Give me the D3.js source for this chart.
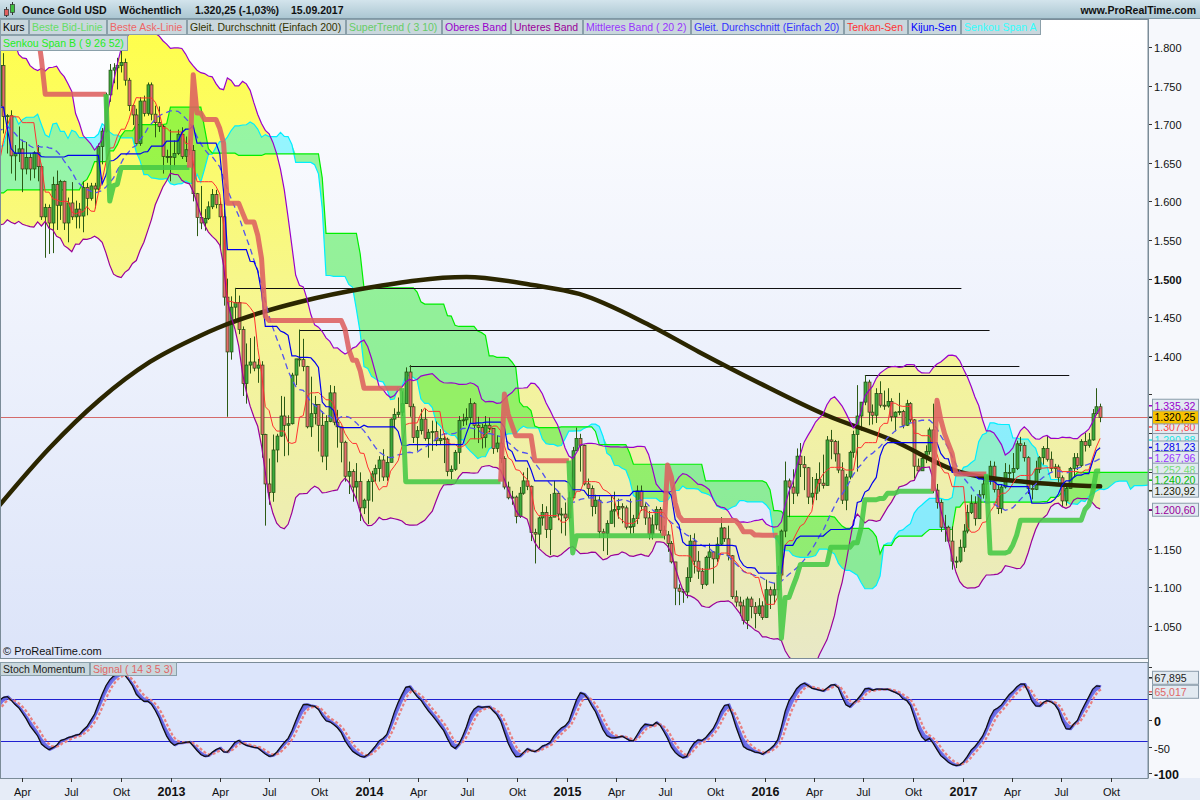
<!DOCTYPE html>
<html>
<head>
<meta charset="utf-8">
<script src="https://cdn.jsdelivr.net/npm/d3@7/dist/d3.min.js"></script>
<style>
  body { margin: 0; background: #ffffff; }
  svg { display: block; font-family: "Liberation Sans", Arial, sans-serif; }
</style>
</head>
<body>
<svg id="chart" width="1200" height="800"></svg>
<script>
// weekly bars (Monday of each week); the first 73 weeks are only warm-up for the indicators
const firstMonday = "2010-10-04";
const firstVisible = 73;

const opens = [
  1318,1346,1369,1326,1357,1394,1366,1352,1362,1406,1385,1378,1380,
  1421,1368,1360,1342,1340,1348,1360,1388,1408,1428,1421,1416,1430,1430,1474,1487,1505,1556,1492,1492,1491,1536,1542,1529,1539,1501,1486,1542,1592,1601,1628,1663,1744,1852,1828,1876,1856,1814,1656,1620,1635,1682,1642,1745,1754,1788,1724,1684,1746,1712,1598,1606,
  1566,1617,1640,1665,1728,1725,1725,1724,1776,1710,1711,1659,1662,1668,1642,1657,1642,1663,1645,1580,1592,1572,1622,1595,1626,1572,1598,1580,1590,1581,1618,1604,1620,1616,1671,1691,1738,1770,1773,1776,1780,1757,1724,1712,1675,1730,1714,1751,1713,1702,1697,1658,1658,
  1657,1662,1687,1658,1667,1666,1610,1579,1572,1578,1593,1609,1596,1580,1476,1405,1463,1469,1434,1364,1388,1392,1384,1388,1298,1234,1223,1278,1296,1322,1310,1312,1375,1396,1395,1386,1308,1325,1337,1310,1270,1315,1352,1314,1308,1288,1244,1250,1230,1237,1203,1213,
  1237,1247,1254,1265,1243,1262,1318,1324,1327,1338,1379,1334,1294,1303,1318,1293,1301,1302,1290,1293,1292,1250,1253,1275,1316,1317,1320,1338,1310,1307,1294,1310,1306,1280,1287,1267,1230,1216,1217,1192,1222,1238,1231,1171,1169,1190,1197,1175,1191,1222,1195,1195,
  1190,1216,1277,1293,1284,1234,1228,1205,1213,1172,1170,1183,1199,1201,1205,1203,1178,1179,1189,1225,1205,1190,1169,1181,1201,1174,1168,1157,1133,1099,1095,1094,1113,1160,1134,1121,1104,1139,1146,1137,1156,1177,1163,1141,1088,1081,1076,1057,1085,1075,1066,1076,
  1061,1097,1090,1097,1116,1173,1238,1230,1222,1270,1259,1255,1217,1222,1240,1235,1232,1291,1289,1273,1252,1213,1243,1275,1298,1322,1340,1366,1327,1323,1351,1336,1335,1341,1321,1327,1328,1310,1338,1317,1257,1251,1267,1276,1304,1226,1210,1178,1178,1160,1134,1134,
  1152,1173,1197,1209,1189,1220,1234,1239,1257,1227,1202,1230,1249,1249,1254,1286,1284,1268,1228,1227,1253,1268,1280,1266,1254,1256,1242,1212,1228,1254,1268,1258,1289,1284,1291,1325,1334
];
const highs = [
  1365,1387,1372,1360,1398,1424,1374,1381,1414,1432,1399,1389,1424,
  1423,1390,1372,1347,1357,1368,1390,1418,1437,1445,1436,1448,1440,1477,1489,1511,1569,1577,1518,1510,1536,1550,1549,1547,1557,1507,1545,1600,1610,1633,1681,1814,1881,1913,1889,1921,1866,1814,1675,1683,1686,1682,1750,1764,1802,1793,1725,1754,1763,1712,1625,1610,
  1628,1648,1675,1730,1764,1749,1743,1782,1792,1713,1718,1673,1697,1680,1677,1662,1665,1673,1646,1597,1596,1632,1640,1628,1627,1605,1625,1601,1598,1626,1624,1624,1624,1675,1695,1741,1778,1779,1786,1796,1785,1760,1726,1720,1735,1737,1754,1754,1724,1723,1699,1667,1693,
  1679,1693,1696,1684,1680,1673,1611,1620,1590,1600,1616,1615,1604,1590,1500,1477,1488,1478,1438,1416,1423,1425,1396,1393,1299,1267,1298,1299,1348,1347,1323,1378,1396,1434,1422,1387,1373,1348,1337,1328,1323,1362,1361,1330,1308,1290,1263,1253,1261,1249,1215,1240,
  1251,1259,1270,1279,1270,1319,1332,1346,1354,1385,1388,1338,1309,1331,1331,1305,1316,1315,1305,1300,1294,1258,1278,1322,1325,1332,1345,1340,1321,1312,1322,1320,1306,1297,1293,1270,1237,1225,1219,1230,1249,1255,1232,1176,1192,1208,1205,1221,1238,1224,1203,1210,
  1224,1282,1307,1299,1285,1241,1232,1220,1218,1176,1187,1219,1224,1215,1209,1206,1215,1194,1232,1232,1209,1199,1194,1205,1204,1180,1173,1160,1133,1104,1098,1126,1168,1170,1147,1125,1141,1157,1147,1165,1191,1178,1180,1142,1096,1088,1084,1088,1088,1081,1086,1082,
  1110,1101,1106,1128,1175,1263,1241,1253,1280,1287,1270,1256,1243,1248,1262,1272,1296,1304,1291,1290,1262,1247,1277,1303,1362,1340,1375,1369,1337,1358,1367,1355,1358,1345,1328,1352,1330,1343,1340,1318,1267,1274,1284,1307,1338,1234,1214,1194,1180,1179,1140,1162,
  1182,1207,1220,1218,1226,1245,1245,1264,1263,1234,1233,1261,1259,1274,1290,1295,1288,1270,1237,1264,1270,1283,1296,1276,1260,1259,1245,1231,1256,1274,1274,1292,1300,1300,1331,1358,1338
];
const lows = [
  1314,1340,1316,1318,1330,1357,1331,1340,1357,1380,1360,1370,1374,
  1363,1352,1334,1309,1329,1336,1355,1385,1403,1404,1382,1414,1410,1426,1449,1485,1500,1462,1478,1480,1489,1523,1512,1517,1497,1478,1480,1540,1578,1590,1600,1660,1743,1702,1808,1800,1767,1640,1532,1600,1633,1604,1640,1675,1734,1713,1677,1680,1700,1562,1590,1523,
  1566,1605,1630,1653,1710,1707,1710,1722,1688,1662,1636,1627,1651,1612,1635,1627,1630,1626,1576,1527,1532,1533,1563,1576,1563,1547,1576,1565,1565,1560,1582,1601,1591,1614,1648,1689,1729,1753,1745,1767,1750,1717,1699,1673,1672,1710,1711,1705,1683,1690,1636,1650,1626,
  1645,1660,1655,1651,1660,1600,1555,1564,1562,1576,1590,1591,1539,1465,1321,1395,1443,1428,1348,1338,1377,1380,1365,1268,1180,1207,1211,1262,1295,1270,1271,1311,1362,1386,1380,1306,1295,1311,1276,1262,1252,1314,1310,1281,1262,1237,1221,1211,1213,1186,1195,1182,
  1211,1237,1237,1238,1238,1262,1306,1320,1322,1338,1321,1287,1277,1298,1290,1268,1277,1283,1285,1261,1244,1240,1251,1260,1309,1310,1312,1292,1287,1280,1281,1301,1273,1275,1261,1227,1214,1207,1183,1190,1220,1226,1160,1131,1151,1180,1164,1142,1191,1187,1170,1167,
  1185,1216,1277,1250,1232,1216,1192,1195,1164,1147,1142,1183,1178,1189,1183,1175,1169,1170,1182,1199,1181,1162,1162,1175,1170,1162,1146,1131,1077,1077,1080,1086,1107,1118,1111,1098,1102,1124,1105,1133,1155,1159,1135,1085,1075,1063,1052,1046,1060,1047,1063,1058,
  1061,1072,1078,1096,1110,1165,1191,1208,1218,1243,1226,1208,1207,1213,1224,1228,1232,1266,1263,1248,1208,1200,1240,1268,1250,1303,1336,1310,1311,1313,1333,1330,1333,1315,1302,1323,1306,1309,1314,1241,1250,1251,1261,1272,1222,1202,1172,1159,1158,1123,1125,1132,
  1146,1170,1195,1180,1189,1215,1215,1233,1223,1195,1196,1228,1238,1240,1252,1276,1263,1221,1214,1226,1248,1259,1263,1250,1242,1236,1204,1206,1228,1243,1252,1256,1276,1281,1290,1323,1314
];
const closes = [
  1346,1369,1326,1357,1394,1366,1352,1362,1406,1385,1378,1380,1421,
  1368,1360,1342,1340,1348,1360,1388,1408,1428,1421,1416,1430,1430,1474,1487,1505,1556,1492,1492,1491,1536,1542,1529,1539,1501,1486,1542,1592,1601,1628,1663,1744,1852,1828,1876,1856,1814,1656,1620,1635,1682,1642,1745,1754,1788,1724,1684,1746,1712,1598,1606,1566,
  1617,1640,1665,1728,1725,1725,1724,1776,1710,1711,1659,1662,1668,1642,1657,1642,1663,1645,1580,1592,1572,1622,1595,1626,1572,1598,1580,1590,1581,1618,1604,1620,1616,1671,1691,1738,1770,1773,1776,1780,1757,1724,1712,1675,1730,1714,1751,1713,1702,1697,1658,1658,1657,
  1662,1687,1658,1667,1666,1610,1579,1572,1578,1593,1609,1596,1580,1476,1405,1463,1469,1434,1364,1388,1392,1384,1388,1298,1234,1223,1278,1296,1322,1310,1312,1375,1396,1395,1386,1308,1325,1337,1310,1270,1315,1352,1314,1308,1288,1244,1250,1230,1237,1203,1213,1237,
  1247,1254,1265,1243,1262,1318,1324,1327,1338,1379,1334,1294,1303,1318,1293,1301,1302,1290,1293,1292,1250,1253,1275,1316,1317,1320,1338,1310,1307,1294,1310,1306,1280,1287,1267,1230,1216,1217,1192,1222,1238,1231,1171,1169,1190,1197,1175,1191,1222,1195,1195,1190,
  1216,1277,1293,1284,1234,1228,1205,1213,1172,1170,1183,1199,1201,1205,1203,1178,1179,1189,1225,1205,1190,1169,1181,1201,1174,1168,1157,1133,1099,1095,1094,1113,1160,1134,1121,1104,1139,1146,1137,1156,1177,1163,1141,1088,1081,1076,1057,1085,1075,1066,1076,1061,
  1097,1090,1097,1116,1173,1238,1230,1222,1270,1259,1255,1217,1222,1240,1235,1232,1291,1289,1273,1252,1213,1243,1275,1298,1322,1340,1366,1327,1323,1351,1336,1335,1341,1321,1327,1328,1310,1338,1317,1257,1251,1267,1276,1304,1226,1210,1178,1178,1160,1134,1134,1152,
  1173,1197,1209,1189,1220,1234,1239,1257,1227,1202,1230,1249,1249,1254,1286,1284,1268,1228,1227,1253,1268,1280,1266,1254,1256,1242,1212,1228,1254,1268,1258,1289,1284,1291,1325,1334,1320.25
];

// 200-week average
const sma200Dates = ["2012-02-20","2012-05-22","2012-08-22","2012-11-23","2013-02-23","2013-03-28","2013-06-14","2013-08-26","2013-12-28","2014-06-30","2014-10-30","2015-01-24","2015-06-02","2015-09-02","2015-12-22","2016-04-23","2016-08-23","2016-12-26","2017-04-28","2017-09-11"];
const sma200Values = [1206.7,1280.6,1342.8,1392.0,1425.7,1436.0,1455.5,1469.7,1487.8,1502.1,1491.7,1480.1,1439.9,1405.0,1364.8,1323.3,1290.9,1249.5,1236.5,1230.9];

// horizontal resistance lines
const levelStart = ["2013-04-29","2013-08-26","2014-03-17","2016-07-04"];
const levelEnd = ["2016-12-29","2017-02-19","2017-04-15","2017-07-16"];
const levelValue = [1488, 1434, 1387, 1375];

// last values shown on the price scale (the first two sit behind the others)
const coveredTagValues = [1307.80, 1290.88];
const coveredTagColors = ["#ff4444", "#22e5e5"];
const tagValues = [1335.32, 1281.23, 1267.96, 1252.48, 1240.20, 1230.92, 1200.60];
const tagColors = ["#9900cc", "#0000ee", "#9933ff", "#77dd77", "#00bb00", "#222200", "#990099"];
const lastPrice = 1320.25;
const stochTags = [67.895, 65.017];
const stochTagColors = ["#222222", "#e06666"];

const priceTicks = [1050, 1100, 1150, 1200, 1250, 1300, 1350, 1400, 1450, 1500, 1550, 1600, 1650, 1700, 1750, 1800];
const stochTicks = [100, 50, 0, -50, -100];

const legendNames = ["Kurs", "Beste Bid-Linie", "Beste Ask-Linie", "Gleit. Durchschnitt (Einfach 200)", "SuperTrend ( 3 10)", "Oberes Band", "Unteres Band", "Mittleres Band ( 20 2)", "Gleit. Durchschnitt (Einfach 20)", "Tenkan-Sen", "Kijun-Sen", "Senkou Span A"];
const legendColors = ["#000000", "#66dd66", "#ee6666", "#333300", "#66cc66", "#9900cc", "#990099", "#9933ff", "#3333ff", "#ff3333", "#0000ff", "#33ffff"];
const monthNames = {3: "Apr", 6: "Jul", 9: "Okt"};

// ---------------------------------------------------------------
const n = Math.min(opens.length, highs.length, lows.length, closes.length);
const parse = d3.timeParse("%Y-%m-%d");
const start = parse(firstMonday);
const weekAt = j => d3.timeMonday.offset(start, j);

const loc = d3.formatLocale({decimal: ",", thousands: ".", grouping: [3], currency: ["", ""]});
const fmtTick = loc.format(",.0f");
const fmtPrice = loc.format(",.2f");
const fmtStoch = loc.format(".3f");

const P = {left: 0, right: 1148, top: 19, bottom: 658};
const S = {top: 662, bottom: 778};

const x = d3.scaleTime().domain([new Date(2013, 0, 1), new Date(2017, 0, 1)]).range([171, 963]);
const y = d3.scaleLinear().domain([1050, 1800]).range([626, 47]);
const ys = d3.scaleLinear().domain([-100, 100]).range([773, 667]);

// indicators
const hl = (i, len) => {
  const s = Math.max(0, i - len + 1);
  return (d3.max(highs.slice(s, i + 1)) + d3.min(lows.slice(s, i + 1))) / 2;
};
const sma20 = [], upper = [], lower = [], tenkan = [], kijun = [];
for (let i = 0; i < n; i++) {
  if (i >= 19) {
    const w = closes.slice(i - 19, i + 1);
    const m = d3.mean(w);
    const sd = Math.sqrt(d3.mean(w, v => (v - m) * (v - m)));
    sma20[i] = m; upper[i] = m + 2 * sd; lower[i] = m - 2 * sd;
  } else { sma20[i] = upper[i] = lower[i] = null; }
  tenkan[i] = i >= 8 ? hl(i, 9) : null;
  kijun[i] = i >= 25 ? hl(i, 26) : null;
}
const cloud = d3.range(25, n).map(i => ({d: weekAt(i + 26), a: (tenkan[i] + kijun[i]) / 2, b: hl(i, 52)}));

// supertrend 3 / 10 (Wilder average of the true range)
const tr = closes.map((c, i) => i === 0 ? highs[i] - lows[i] :
  Math.max(highs[i] - lows[i], Math.abs(highs[i] - closes[i - 1]), Math.abs(lows[i] - closes[i - 1])));
const atr = [];
for (let i = 0; i < n; i++) {
  if (i < 9) atr[i] = null;
  else if (i === 9) atr[i] = d3.mean(tr.slice(0, 10));
  else atr[i] = (atr[i - 1] * 9 + tr[i]) / 10;
}
const fUp = [], fDn = [], st = [], stUp = [];
for (let i = 9; i < n; i++) {
  const mid = (highs[i] + lows[i]) / 2;
  const bu = mid + 3 * atr[i], bd = mid - 3 * atr[i];
  if (i === 9) { fUp[i] = bu; fDn[i] = bd; st[i] = bu; stUp[i] = false; continue; }
  fUp[i] = (bu < fUp[i - 1] || closes[i - 1] > fUp[i - 1]) ? bu : fUp[i - 1];
  fDn[i] = (bd > fDn[i - 1] || closes[i - 1] < fDn[i - 1]) ? bd : fDn[i - 1];
  if (!stUp[i - 1]) stUp[i] = closes[i] > fUp[i];
  else stUp[i] = closes[i] >= fDn[i];
  st[i] = stUp[i] ? fDn[i] : fUp[i];
}

// stochastic momentum index 14 3 5 3
const ema = (arr, len) => {
  const k = 2 / (len + 1); let prev = null;
  return arr.map(v => { if (v == null) return null; prev = prev == null ? v : prev + k * (v - prev); return prev; });
};
const dist = [], rng = [];
for (let i = 0; i < n; i++) {
  if (i < 13) { dist[i] = null; rng[i] = null; continue; }
  const hh = d3.max(highs.slice(i - 13, i + 1)), ll = d3.min(lows.slice(i - 13, i + 1));
  dist[i] = closes[i] - (hh + ll) / 2; rng[i] = hh - ll;
}
const dS = ema(ema(dist, 3), 5), rS = ema(ema(rng, 3), 5);
const smi = dS.map((v, i) => v == null ? null : 100 * v / (0.5 * rS[i]));
const sig = ema(smi, 3);

// ---------------------------------------------------------------
const svg = d3.select("#chart");
const defs = svg.append("defs");
const vGrad = (id, y1, y2, stops) => {
  const g = defs.append("linearGradient").attr("id", id).attr("gradientUnits", "userSpaceOnUse")
    .attr("x1", 0).attr("x2", 0).attr("y1", y1).attr("y2", y2);
  stops.forEach(s => g.append("stop").attr("offset", s[0]).attr("stop-color", s[1]));
};
vGrad("bgMain", P.top, P.bottom, [[0, "#ffffff"], [1, "#dce4f9"]]);
vGrad("bandFill", P.top, P.bottom, [[0, "#ffff48"], [0.45, "#f6f692"], [1, "#e8e8c6"]]);
vGrad("header", 0, P.top, [[0, "#d3e4ec"], [1, "#a9c5d1"]]);
defs.append("clipPath").attr("id", "clipMain").append("rect")
  .attr("x", P.left).attr("y", P.top).attr("width", P.right - P.left).attr("height", P.bottom - P.top);
defs.append("clipPath").attr("id", "clipStoch").append("rect")
  .attr("x", P.left).attr("y", S.top).attr("width", P.right - P.left).attr("height", S.bottom - S.top);

svg.append("rect").attr("width", 1200).attr("height", 800).attr("fill", "#f6f8fc");
svg.append("rect").attr("x", 0).attr("y", S.bottom).attr("width", 1200).attr("height", 800 - S.bottom).attr("fill", "#e6ecf7");

// main panel
const plot = svg.append("g").attr("clip-path", "url(#clipMain)");
plot.append("rect").attr("x", P.left).attr("y", P.top).attr("width", P.right - P.left).attr("height", P.bottom - P.top).attr("fill", "url(#bgMain)");

const bandIdx = d3.range(19, n);
plot.append("path").datum(bandIdx)
  .attr("d", d3.area().x(i => x(weekAt(i))).y0(i => y(lower[i])).y1(i => y(upper[i])))
  .attr("fill", "url(#bandFill)");

plot.append("path").datum(cloud)
  .attr("d", d3.area().x(d => x(d.d)).y0(d => y(d.b)).y1(d => y(Math.max(d.a, d.b))))
  .attr("fill", "#00eeff").attr("fill-opacity", 0.4);
plot.append("path").datum(cloud)
  .attr("d", d3.area().x(d => x(d.d)).y0(d => y(d.a)).y1(d => y(Math.max(d.a, d.b))))
  .attr("fill", "#22ee22").attr("fill-opacity", 0.45);
plot.append("path").datum(cloud).attr("fill", "none").attr("stroke", "#00eeff").attr("stroke-width", 1.2)
  .attr("d", d3.line().x(d => x(d.d)).y(d => y(d.a)));
plot.append("path").datum(cloud).attr("fill", "none").attr("stroke", "#00ee00").attr("stroke-width", 1.2)
  .attr("d", d3.line().x(d => x(d.d)).y(d => y(d.b)));

// last price line
plot.append("line").attr("x1", P.left).attr("x2", P.right)
  .attr("y1", Math.round(y(lastPrice)) + 0.5).attr("y2", Math.round(y(lastPrice)) + 0.5)
  .attr("stroke", "#d46a6a").attr("stroke-width", 1);

// resistance lines
plot.selectAll("line.level").data(levelValue).join("line").attr("class", "level")
  .attr("x1", (v, k) => x(parse(levelStart[k]))).attr("x2", (v, k) => x(parse(levelEnd[k])))
  .attr("y1", v => Math.round(y(v)) + 0.5).attr("y2", v => Math.round(y(v)) + 0.5)
  .attr("stroke", "#111111").attr("stroke-width", 1.2);

// candles
const bars = d3.range(firstVisible - 1, n).map(i => ({d: weekAt(i), o: opens[i], h: highs[i], l: lows[i], c: closes[i]}));
const cx = d => Math.round(x(d.d)) + 0.5;
plot.append("g").selectAll("line").data(bars).join("line")
  .attr("x1", cx).attr("x2", cx).attr("y1", d => y(d.h)).attr("y2", d => y(d.l))
  .attr("stroke", "#2c5a14").attr("stroke-width", 1);
plot.append("g").selectAll("rect").data(bars).join("rect")
  .attr("x", d => cx(d) - 1.5).attr("width", 3)
  .attr("y", d => y(Math.max(d.o, d.c)))
  .attr("height", d => Math.max(1, Math.abs(y(d.o) - y(d.c))))
  .attr("fill", d => d.c >= d.o ? "#3daa3d" : "#e36b6b")
  .attr("stroke", "#1f4a0e").attr("stroke-width", 0.7);

// 200 average
const smaPts = sma200Dates.map((s, k) => ({d: parse(s), v: sma200Values[k]}));
plot.append("path").datum(smaPts).attr("fill", "none").attr("stroke", "#2b2600").attr("stroke-width", 4.5)
  .attr("stroke-linecap", "round")
  .attr("d", d3.line().curve(d3.curveMonotoneX).x(d => x(d.d)).y(d => y(d.v)));

// bollinger bands, averages, ichimoku lines
const lineOf = arr => d3.line().defined(i => arr[i] != null).x(i => x(weekAt(i))).y(i => y(arr[i]));
const allIdx = d3.range(0, n);
plot.append("path").datum(allIdx).attr("fill", "none").attr("stroke", "#9900cc").attr("stroke-width", 1.2).attr("d", lineOf(upper));
plot.append("path").datum(allIdx).attr("fill", "none").attr("stroke", "#990099").attr("stroke-width", 1.2).attr("d", lineOf(lower));
plot.append("path").datum(allIdx).attr("fill", "none").attr("stroke", "#5151f0").attr("stroke-width", 1.3)
  .attr("stroke-dasharray", "6,4").attr("d", lineOf(sma20));
plot.append("path").datum(allIdx).attr("fill", "none").attr("stroke", "#ff3030").attr("stroke-width", 1).attr("d", lineOf(tenkan));
plot.append("path").datum(allIdx).attr("fill", "none").attr("stroke", "#0000ee").attr("stroke-width", 1.2).attr("d", lineOf(kijun));

// supertrend, split into runs of one colour
const runs = [];
let cur = null;
d3.range(10, n).forEach(i => {
  const p = {d: weekAt(i), v: st[i]};
  if (!cur || cur.up !== stUp[i]) {
    const prev = cur ? cur.pts[cur.pts.length - 1] : null;
    cur = {up: stUp[i], pts: prev ? [prev, p] : [p]};
    runs.push(cur);
  } else cur.pts.push(p);
});
plot.append("g").selectAll("path").data(runs).join("path")
  .attr("fill", "none").attr("stroke-width", 5).attr("stroke-linejoin", "round").attr("stroke-opacity", 0.88)
  .attr("stroke", r => r.up ? "#45c845" : "#dd6060")
  .attr("d", r => d3.line().x(d => x(d.d)).y(d => y(d.v))(r.pts));

// frame of main panel
svg.append("rect").attr("x", P.left + 0.5).attr("y", P.top + 0.5).attr("width", P.right - P.left - 0.5).attr("height", P.bottom - P.top)
  .attr("fill", "none").attr("stroke", "#7b8c98");
svg.append("text").attr("x", 3).attr("y", 655).attr("font-size", 11).attr("fill", "#111").text("© ProRealTime.com");

// stochastic panel
svg.append("rect").attr("x", P.left).attr("y", S.top).attr("width", P.right - P.left).attr("height", S.bottom - S.top).attr("fill", "#dce5fb");
const sp = svg.append("g").attr("clip-path", "url(#clipStoch)");
[40, -40].forEach(v => sp.append("line").attr("x1", P.left).attr("x2", P.right)
  .attr("y1", Math.round(ys(v)) + 0.5).attr("y2", Math.round(ys(v)) + 0.5).attr("stroke", "#2020d0").attr("stroke-width", 1));
const sIdx = d3.range(firstVisible - 1, n);
sp.append("path").datum(sIdx).attr("fill", "#6464e6").attr("fill-opacity", 0.9)
  .attr("d", d3.area().x(i => x(weekAt(i))).y0(i => ys(sig[i])).y1(i => ys(smi[i])));
sp.append("path").datum(sIdx).attr("fill", "none").attr("stroke", "#6060e0").attr("stroke-width", 2.2)
  .attr("d", d3.line().x(i => x(weekAt(i)) + 1).y(i => ys(smi[i])));
sp.append("path").datum(sIdx).attr("fill", "none").attr("stroke", "#e88080").attr("stroke-width", 2.2).attr("stroke-dasharray", "3,2")
  .attr("d", d3.line().x(i => x(weekAt(i)) + 2).y(i => ys(sig[i])));
sp.append("path").datum(sIdx).attr("fill", "none").attr("stroke", "#111111").attr("stroke-width", 1.3)
  .attr("d", d3.line().x(i => x(weekAt(i))).y(i => ys(smi[i])));
svg.append("rect").attr("x", P.left + 0.5).attr("y", S.top + 0.5).attr("width", P.right - P.left - 0.5).attr("height", S.bottom - S.top)
  .attr("fill", "none").attr("stroke", "#7b8c98");

// header
svg.append("rect").attr("x", 0).attr("y", 0).attr("width", 1200).attr("height", P.top).attr("fill", "url(#header)");
svg.append("line").attr("x1", 0).attr("x2", 1200).attr("y1", P.top - 0.5).attr("y2", P.top - 0.5).attr("stroke", "#7f98a5");
const icon = svg.append("g");
icon.append("line").attr("x1", 6.5).attr("x2", 6.5).attr("y1", 7).attr("y2", 17).attr("stroke", "#333");
icon.append("rect").attr("x", 4.5).attr("y", 9.5).attr("width", 4).attr("height", 6).attr("fill", "#e06060").attr("stroke", "#333").attr("stroke-width", 0.7);
icon.append("line").attr("x1", 12.5).attr("x2", 12.5).attr("y1", 2).attr("y2", 15).attr("stroke", "#333");
icon.append("rect").attr("x", 10.5).attr("y", 4.5).attr("width", 4).attr("height", 8).attr("fill", "#40c040").attr("stroke", "#333").attr("stroke-width", 0.7);
const headerParts = [["Ounce Gold USD", 22], ["Wöchentlich", 119], [fmtPrice(lastPrice) + " (-1,03%)", 195], ["15.09.2017", 291]];
headerParts.forEach(h => svg.append("text").attr("x", h[1]).attr("y", 14).attr("font-size", 10.5).attr("font-weight", "bold").attr("fill", "#111").text(h[0]));
svg.append("text").attr("x", 1196).attr("y", 14).attr("text-anchor", "end").attr("font-size", 10.5).attr("font-weight", "bold").attr("fill", "#111").text("www.ProRealTime.com");

// legends
const legendRow = (names, colors, x0, y0, h) => {
  let lx = x0;
  names.forEach((name, k) => {
    const g = svg.append("g");
    const r = g.append("rect").attr("y", y0 + 0.5).attr("height", h).attr("fill", "#c9d7dd").attr("stroke", "#8ba0aa");
    const t = g.append("text").attr("x", lx + 3).attr("y", y0 + h / 2 + 4.5).attr("font-size", 10.5).attr("fill", colors[k]).text(name);
    const w = Math.ceil(t.node().getComputedTextLength()) + 6;
    r.attr("x", lx + 0.5).attr("width", w);
    lx += w + 1;
  });
};
legendRow(legendNames, legendColors, 0, 19, 15);
legendRow(["Senkou Span B ( 9 26 52)"], ["#22ee22"], 0, 35, 15);
legendRow(["Stoch Momentum", "Signal ( 14 3 5 3)"], ["#222222", "#e06666"], 0, S.top, 13);

// value tags: visible ones are spread so they keep at least 10.5 px apart
const tagItems = tagValues.map((v, k) => ({v, color: tagColors[k], bg: "#e2eaf1", y: y(v)}))
  .concat([{v: lastPrice, color: "#000000", bg: "#f7c200", y: y(lastPrice), price: true}])
  .sort((a, b) => a.y - b.y);
for (let k = 1; k < tagItems.length; k++) {
  if (tagItems[k].y - tagItems[k - 1].y < 10.5) tagItems[k].y = tagItems[k - 1].y + 10.5;
}

// price axis; tick labels hidden under a value tag are left out
const ax = svg.append("g");
priceTicks.forEach(v => {
  const yy = Math.round(y(v)) + 0.5;
  ax.append("line").attr("x1", P.right).attr("x2", P.right + 4).attr("y1", yy).attr("y2", yy).attr("stroke", "#333");
  if (tagItems.some(t => Math.abs(t.y - yy) < 12)) return;
  ax.append("text").attr("x", P.right + 6).attr("y", yy + 4).attr("font-size", 11)
    .attr("font-weight", v % 500 === 0 ? "bold" : "normal").attr("fill", "#111").text(fmtTick(v));
});
const tag = (txt, color, bg, yy) => {
  ax.append("line").attr("x1", P.right).attr("x2", P.right + 4).attr("y1", yy).attr("y2", yy).attr("stroke", color).attr("stroke-width", 1.5);
  ax.append("rect").attr("x", P.right + 4.5).attr("y", yy - 6.5).attr("width", 46).attr("height", 13)
    .attr("fill", bg).attr("stroke", "#8a9caa");
  ax.append("text").attr("x", P.right + 6.5).attr("y", yy + 4).attr("font-size", 10.5).attr("fill", color).text(txt);
};
coveredTagValues.forEach((v, k) => tag(fmtPrice(v), coveredTagColors[k], "#e2eaf1", y(v)));
tagItems.filter(t => !t.price).forEach(t => tag(fmtPrice(t.v), t.color, t.bg, t.y));
tagItems.filter(t => t.price).forEach(t => tag(fmtPrice(t.v), t.color, t.bg, t.y));

// stochastic axis
const sMid = (ys(stochTags[0]) + ys(stochTags[1])) / 2;
const sTagYs = [sMid - 7, sMid + 7];
stochTicks.forEach(v => {
  const yy = Math.round(ys(v)) + 0.5;
  ax.append("line").attr("x1", P.right).attr("x2", P.right + 4).attr("y1", yy).attr("y2", yy).attr("stroke", "#333");
  if (sTagYs.some(t => Math.abs(t - yy) < 12)) return;
  ax.append("text").attr("x", P.right + 6).attr("y", yy + 5).attr("font-size", v % 100 === 0 ? 12.5 : 11)
    .attr("font-weight", v % 100 === 0 ? "bold" : "normal").attr("fill", "#111").text(v);
});
stochTags.forEach((v, k) => tag(fmtStoch(v), stochTagColors[k], "#e2eaf1", sTagYs[k]));
ax.append("line").attr("x1", P.right + 0.5).attr("x2", P.right + 0.5).attr("y1", P.top).attr("y2", S.bottom).attr("stroke", "#7b8c98");

// time axis
const months = d3.timeMonth.every(3).range(new Date(2012, 3, 1), new Date(2017, 10, 1));
months.forEach(m => {
  const xx = Math.round(x(m)) + 0.5;
  ax.append("line").attr("x1", xx).attr("x2", xx).attr("y1", S.bottom).attr("y2", S.bottom + 4).attr("stroke", "#333");
  const yearStart = m.getMonth() === 0;
  ax.append("text").attr("x", xx).attr("y", 796).attr("text-anchor", "middle")
    .attr("font-size", yearStart ? 12.5 : 11).attr("font-weight", yearStart ? "bold" : "normal").attr("fill", "#111")
    .text(yearStart ? m.getFullYear() : monthNames[m.getMonth()]);
});
</script>
</body>
</html>
